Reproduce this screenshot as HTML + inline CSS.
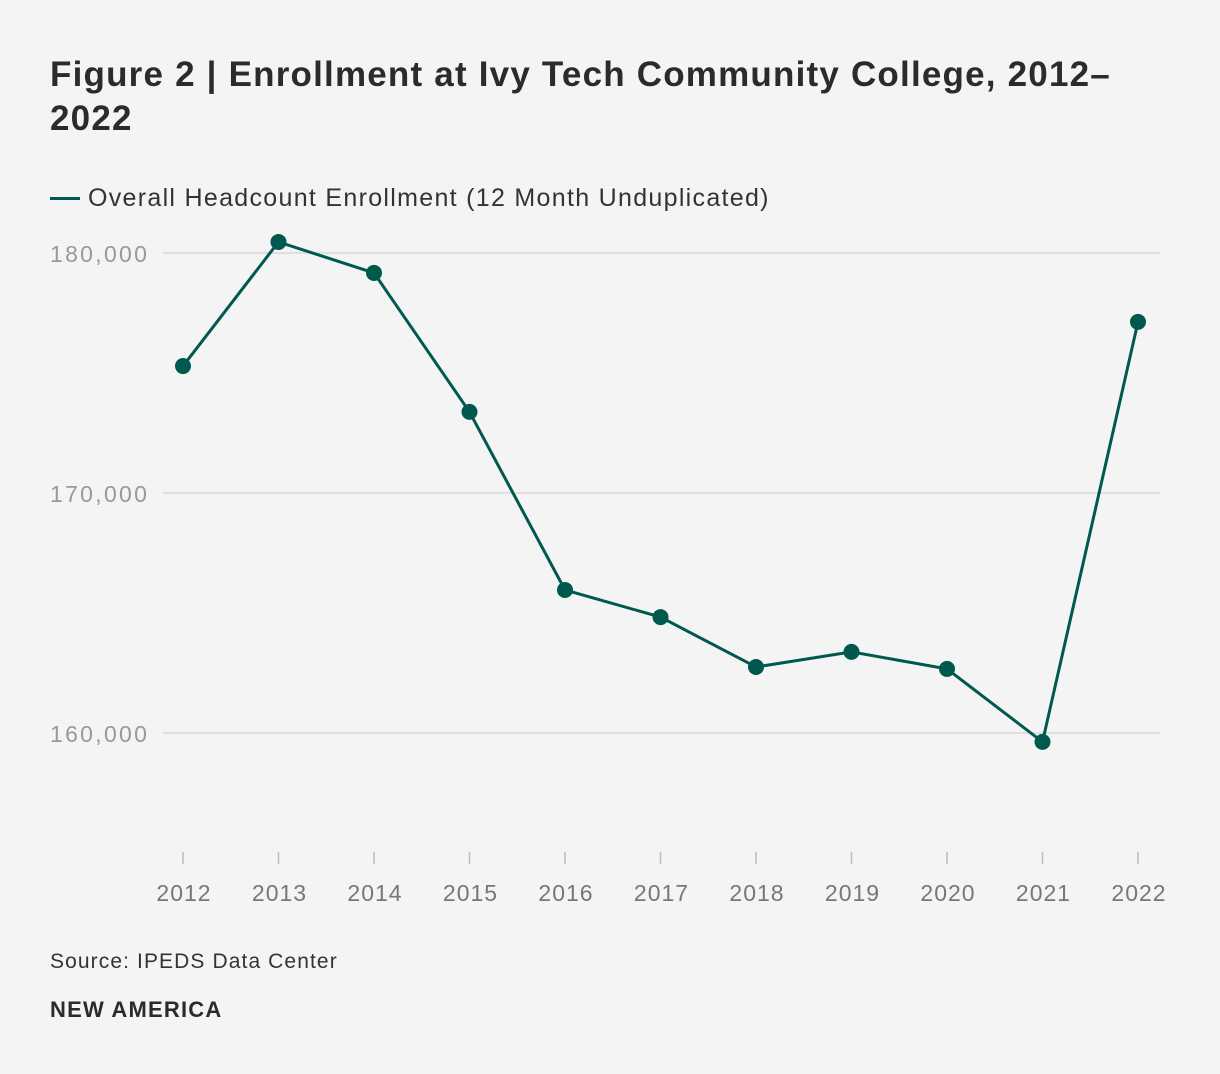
<!DOCTYPE html>
<html><head><meta charset="utf-8">
<style>
body{margin:0;background:#f4f4f4;font-family:"Liberation Sans",sans-serif;}
#wrap{position:relative;width:1220px;height:1074px;background:#f4f4f4;}
h1{position:absolute;left:50px;top:53px;margin:0;width:1150px;font-size:35px;line-height:44px;font-weight:bold;color:#2b2b2b;letter-spacing:1.2px;}
.legend{position:absolute;left:50px;top:184px;font-size:25px;color:#333;display:flex;align-items:center;letter-spacing:1.3px;}
.legend span.sw{display:inline-block;width:30px;height:3px;background:#00594f;margin-right:8px;}
.src{position:absolute;left:50px;top:950px;font-size:21px;color:#333;letter-spacing:1.1px;}
.brand{position:absolute;left:50px;top:997px;font-size:22px;font-weight:bold;color:#2b2b2b;letter-spacing:1.2px;}
svg{position:absolute;left:0;top:0;}
</style></head><body>
<div id="wrap">
<h1>Figure 2 | Enrollment at Ivy Tech Community College, 2012–<br>2022</h1>
<div class="legend"><span class="sw"></span>Overall Headcount Enrollment (12 Month Unduplicated)</div>
<svg id="chart" width="1220" height="1074"></svg>
<div class="src">Source: IPEDS Data Center</div>
<div class="brand">NEW AMERICA</div>
</div>
<script>
const years=["2012","2013","2014","2015","2016","2017","2018","2019","2020","2021","2022"];
const enrollment=[175290,180460,179170,173380,165960,164830,162750,163380,162670,159630,177130];
const yTicks=[160000,170000,180000];
const yTickLabels=["160,000","170,000","180,000"];
const svg=document.getElementById('chart');
const NS="http://www.w3.org/2000/svg";
const x=i=>183+i*(1138-183)/(years.length-1);
const y=v=>733-(v-160000)*(733-253)/20000;
function el(t,a){const e=document.createElementNS(NS,t);for(const k in a)e.setAttribute(k,a[k]);svg.appendChild(e);return e;}
yTicks.forEach((t,i)=>{
 const g=el('line',{x1:163,x2:1160,y1:y(t),y2:y(t),stroke:'#d8d8d8','stroke-width':1.5});
 
 
 const l=el('text',{x:50,y:y(t)+9,'font-size':23,fill:'#999','letter-spacing':'2.3','font-family':'Liberation Sans, sans-serif'});
 l.textContent=yTickLabels[i];
 
 
});
years.forEach((yr,i)=>{
 const tk=el('line',{x1:x(i),x2:x(i),y1:852,y2:864,stroke:'#bbb','stroke-width':1.5});
 
 
 const l=el('text',{x:x(i)+1,y:901,'font-size':23,fill:'#777','text-anchor':'middle','letter-spacing':'1','font-family':'Liberation Sans, sans-serif'});
 l.textContent=yr;
 
 
});
const p=el('polyline',{points:enrollment.map((v,i)=>x(i)+','+y(v)).join(' '),fill:'none',stroke:'#00594f','stroke-width':3});


enrollment.forEach((v,i)=>{
 const c=el('circle',{cx:x(i),cy:y(v),r:8,fill:'#00594f'});
 
 
});
</script>
</body></html>
